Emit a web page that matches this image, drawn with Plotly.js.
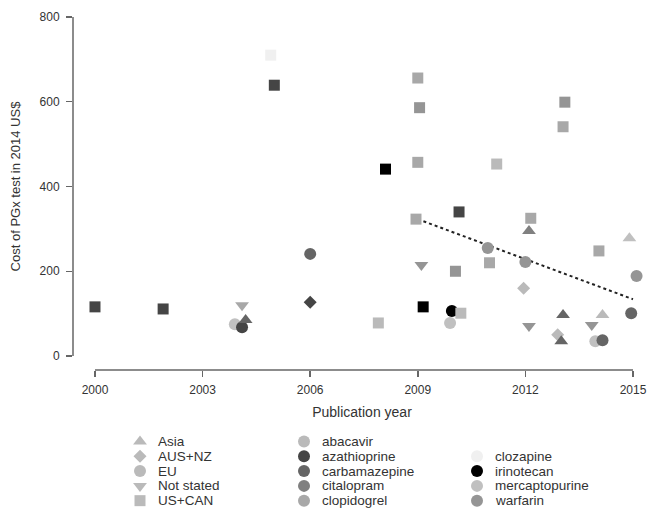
<!DOCTYPE html>
<html>
<head>
<meta charset="utf-8">
<script src="https://cdn.plot.ly/plotly-3.0.1.min.js"></script>
<style>html,body{margin:0;padding:0;background:#fff;}#chart{width:651px;height:511px;}</style>
</head>
<body>
<div id="chart"></div>
<script>
// ---- data ----
var years = [2000.0, 2001.9, 2004.1, 2003.9, 2004.1, 2004.2, 2004.9, 2005.0, 2006.0, 2006.0,
             2007.9, 2008.1, 2009.0, 2009.05, 2009.0, 2008.95, 2009.1, 2009.15, 2009.95, 2009.9,
             2010.15, 2010.2, 2010.05, 2010.95, 2011.0, 2011.2, 2012.0, 2012.15, 2012.1, 2011.95,
             2012.1, 2013.1, 2013.05, 2013.05, 2012.9, 2013.0, 2014.05, 2013.85, 2014.15, 2013.95,
             2014.15, 2014.9, 2015.1, 2014.95];
var costs = [116, 111, 120, 75, 68, 85, 710, 639, 241, 127,
             78, 441, 656, 586, 457, 323, 215, 116, 106, 78,
             340, 101, 200, 255, 220, 453, 222, 325, 295, 160,
             71, 599, 541, 97, 50, 35, 248, 73, 97, 35,
             37, 278, 189, 101];
var regions = ["US+CAN","US+CAN","Not stated","EU","EU","Asia","US+CAN","US+CAN","EU","AUS+NZ",
               "US+CAN","US+CAN","US+CAN","US+CAN","US+CAN","US+CAN","Not stated","US+CAN","EU","EU",
               "US+CAN","US+CAN","US+CAN","EU","US+CAN","US+CAN","EU","US+CAN","Asia","AUS+NZ",
               "Not stated","US+CAN","US+CAN","Asia","AUS+NZ","Asia","US+CAN","Not stated","Asia","EU",
               "EU","Asia","EU","EU"];
var drugs = ["azathioprine","azathioprine","clopidogrel","mercaptopurine","azathioprine","carbamazepine","clozapine","azathioprine","carbamazepine","azathioprine",
             "abacavir","irinotecan","clopidogrel","warfarin","clopidogrel","clopidogrel","warfarin","irinotecan","irinotecan","mercaptopurine",
             "azathioprine","abacavir","warfarin","warfarin","clopidogrel","abacavir","warfarin","clopidogrel","citalopram","abacavir",
             "warfarin","warfarin","clopidogrel","carbamazepine","abacavir","carbamazepine","clopidogrel","warfarin","abacavir","mercaptopurine",
             "carbamazepine","mercaptopurine","warfarin","carbamazepine"];
var trendYears = [2009, 2015];
var trendCosts = [323, 134];
var regionNames = ["Asia","AUS+NZ","EU","Not stated","US+CAN"];
var drugNames = ["abacavir","azathioprine","carbamazepine","citalopram","clopidogrel",
                 "clozapine","irinotecan","mercaptopurine","warfarin"];
var xTicks = [2000, 2003, 2006, 2009, 2012, 2015];
var yTicks = [0, 200, 400, 600, 800];

// ---- styles ----
var symbolOf = {"Asia":"triangle-up","AUS+NZ":"diamond","EU":"circle","Not stated":"triangle-down","US+CAN":"square"};
var sizeOf = {"Asia":12,"AUS+NZ":10,"EU":12,"Not stated":12,"US+CAN":11};
var colorOf = {"abacavir":"#bababa","azathioprine":"#454545","carbamazepine":"#656565","citalopram":"#808080",
               "clopidogrel":"#a8a8a8","clozapine":"#f0f0f0","irinotecan":"#000000","mercaptopurine":"#c0c0c0","warfarin":"#959595"};
var regionLegendColor = "#bababa";
var textColor = "#333333";
var axisColor = "#666666";
var FONT = "Liberation Sans, Arial, sans-serif";

// legend layout (pixel positions within the 651 px figure; paper x starts at 73)
var legendColX = [140, 304, 477];
var legendTextGap = 16;

var traces = [];
// trend line
traces.push({x: trendYears, y: trendCosts, type: "scatter", mode: "lines",
  line: {color: "#222", width: 2, dash: "dot"}, hoverinfo: "skip", showlegend: false});
// data points
traces.push({x: years, y: costs, type: "scatter", mode: "markers", showlegend: false,
  marker: {symbol: regions.map(function(r){return symbolOf[r];}),
           size: regions.map(function(r){return sizeOf[r];}),
           color: drugs.map(function(d){return colorOf[d];}),
           opacity: 1,
           line: {width: 0}},
  text: drugs, hoverinfo: "x+y+text"});

// manual legend
var annotations = [];
var lgX = [], lgY = [], lgSym = [], lgCol = [], lgSize = [];
regionNames.forEach(function(r, i){
  lgX.push(legendColX[0]); lgY.push(i); lgSym.push(symbolOf[r]); lgCol.push(regionLegendColor); lgSize.push(sizeOf[r]);
  annotations.push({xref:"x2", yref:"y2", x: legendColX[0] + legendTextGap, y: i, text: r, showarrow:false,
    xanchor:"left", yanchor:"middle", font:{family:FONT, size:13.5, color:textColor}});
});
drugNames.forEach(function(d, i){
  var col = i < 5 ? 1 : 2;
  var row = i < 5 ? i : i - 4;
  lgX.push(legendColX[col]); lgY.push(row); lgSym.push("circle"); lgCol.push(colorOf[d]); lgSize.push(12);
  annotations.push({xref:"x2", yref:"y2", x: legendColX[col] + legendTextGap, y: row, text: d, showarrow:false,
    xanchor:"left", yanchor:"middle", font:{family:FONT, size:13.5, color:textColor}});
});
traces.push({x: lgX, y: lgY, xaxis: "x2", yaxis: "y2", type: "scatter", mode: "markers",
  marker: {symbol: lgSym, color: lgCol, size: lgSize, opacity: 1, line:{width:0}}, hoverinfo: "skip", showlegend: false});

var mainBottom = (511 - 370) / 508;

var layout = {
  width: 651, height: 511,
  margin: {l: 73, r: 0, t: 3, b: 0, pad: 0},
  paper_bgcolor: "#fff", plot_bgcolor: "#fff",
  font: {family: FONT, color: textColor, size: 12},
  showlegend: false,
  xaxis: {domain: [0, 1], anchor: "y", range: [1999.387, 2015.502], tickvals: xTicks, ticktext: xTicks.map(String),
    showgrid: false, zeroline: false, showline: false, ticks: "outside", ticklen: 6, tickwidth: 1.5, tickcolor: axisColor,
    tickfont: {size: 12, color: textColor}, ticklabelstandoff: 3,
    title: {text: "Publication year", font: {size: 14, color: textColor}, standoff: 10}},
  yaxis: {domain: [mainBottom, 1], anchor: "x", range: [-33, 833], tickvals: yTicks, ticktext: yTicks.map(String),
    showgrid: false, zeroline: false, showline: false, ticks: "outside", ticklen: 6, tickwidth: 1.5, tickcolor: axisColor,
    tickfont: {size: 12, color: textColor}, ticklabelstandoff: 4,
    title: {text: "Cost of PGx test in 2014 US$", font: {size: 13, color: textColor}, standoff: 16}},
  xaxis2: {domain: [0, 1], anchor: "y2", range: [73, 651], visible: false, fixedrange: true},
  yaxis2: {domain: [0, (511 - 425) / 508], anchor: "x2", range: [4.7, -1.12], visible: false, fixedrange: true},
  shapes: [
    {type: "line", xref: "paper", yref: "y", x0: 0, x1: 0, y0: yTicks[0], y1: yTicks[yTicks.length - 1],
     line: {color: axisColor, width: 1.5}},
    {type: "line", xref: "x", yref: "paper", x0: xTicks[0], x1: xTicks[xTicks.length - 1], y0: mainBottom, y1: mainBottom,
     line: {color: axisColor, width: 1.5}}
  ],
  annotations: annotations
};

Plotly.newPlot("chart", traces, layout, {displayModeBar: false, staticPlot: true});
</script>
</body>
</html>
